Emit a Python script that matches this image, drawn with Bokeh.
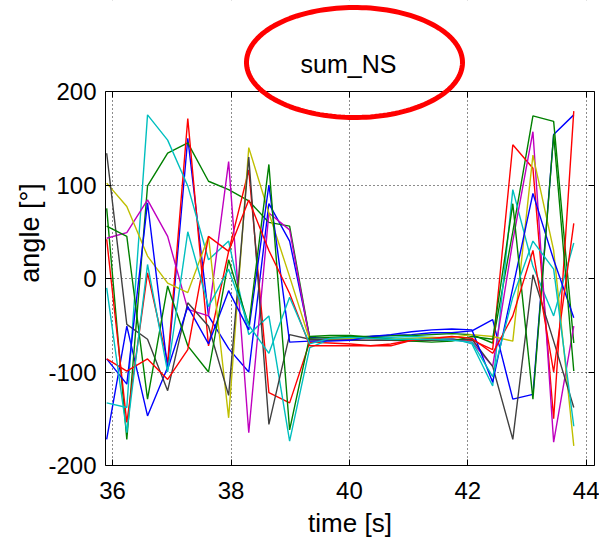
import numpy as np
from bokeh.plotting import figure
from bokeh.models import (Range1d, FixedTicker, LinearAxis, PolyAnnotation, Label,
                          BoxAnnotation)
from bokeh.embed import file_html
from bokeh.resources import INLINE

# ---- data -------------------------------------------------------------
time_s = [35.90, 36.24, 36.59, 36.93, 37.27, 37.62, 37.96, 38.30, 38.64, 38.99,
          39.33, 39.67, 40.02, 40.36, 40.70, 41.05, 41.39, 41.73, 42.07, 42.42,
          42.76, 43.10, 43.45, 43.79]

blue_1 = [-172, -51, -147, -95, 150, -40, -75, -100, 80, 40, -63, -64, -63, -62, -61, -60, -58, -58, -56, -44, -129, -124, 154, 175]
green_1 = [75, -172, 99, 134, 145, 104, 95, 83, 60, 56, -64, -63, -62, -62, -61, -61, -60, -59, -60, -69, 50, 174, 168, -69]
red_1 = [42, -154, 6, -90, 171, -72, 29, 116, -122, -133, -68, -69, -70, -72, -72, -66, -64, -65, -66, -76, 143, 118, -150, 179]
cyan_1 = [-133, -138, 175, 148, 99, 20, 40, -60, -40, -174, -74, -65, -64, -63, -63, -62, -63, -64, -70, -115, 95, 13, -40, 38]
magenta_1 = [43, 49, 84, 45, -33, -40, 125, -165, 70, 52, -66, -66, -65, -64, -66, -67, -66, -65, -68, -94, 40, 157, -175, -51]
yellow_1 = [102, 77, 24, -5, -15, 45, -149, 140, 70, 2, -66, -65, -64, -64, -65, -64, -63, -63, -60, -62, -67, 132, 30, -179]
gray_1 = [134, -49, -65, -120, -26, -51, -125, 130, -156, -60, -65, -66, -66, -66, -66, -66, -66, -66, -65, -94, -172, 4, -67, -138]
blue_2 = [-86, -113, 81, -97, -30, -70, -13, -55, 100, -68, -67, -67, -66, -62, -60, -57, -55, -54, -55, -111, -10, 91, 20, -42]
green_2 = [56, 45, -129, -8, -72, -100, 20, -50, 122, -162, -62, -61, -61, -63, -65, -67, -68, -67, -62, -65, 80, -129, 154, -99]
red_2 = [-86, -99, -86, -108, -76, 45, 29, 84, 30, -16, -72, -72, -72, -72, -70, -66, -64, -62, -64, -80, -40, 30, -100, 59]
cyan_2 = [-10, -165, 15, -100, 50, -30, 10, -50, -80, -20, -70, -64, -63, -64, -65, -65, -65, -66, -68, -105, -20, 40, 10, -158]

series = [blue_1, green_1, red_1, cyan_1, magenta_1, yellow_1, gray_1,
          blue_2, green_2, red_2, cyan_2]
colors = ["#0000FF", "#008000", "#FF0000", "#00BFBF", "#BF00BF", "#BFBF00", "#404040",
          "#0000FF", "#008000", "#FF0000", "#00BFBF"]

x_ticks = [36, 38, 40, 42, 44]
y_ticks = [-200, -100, 0, 100, 200]
y_tick_labels = {-200: "-200", -100: "-100", 0: "0", 100: "100", 200: "200"}

title_text = "sum_NS"
x_label = "time [s]"
y_label = "angle [°]"

# ---- layout constants (pixels) ------------------------------------------
FONT = "Liberation Sans"
BOX_L, BOX_R, BOX_T, BOX_B = 105, 594, 91, 465     # axes box on the page
BORDER_B = 82
X0, X1 = 35.88, 44.14
Y0, Y1 = -200, 200
sx = (X1 - X0) / (BOX_R - BOX_L)       # data units per pixel
sy = (Y1 - Y0) / (BOX_B - BOX_T)
Y_TOP = Y1 + BOX_T * sy                 # frame reaches the top of the page

def px_x(px):
    return X0 + (px - BOX_L) * sx

def px_y(py):
    return Y1 + (BOX_T - py) * sy

ELL_CX, ELL_CY, ELL_A, ELL_B = 354, 62, 108, 55
theta = np.linspace(0, 2 * np.pi, 160)

# ---- figure -------------------------------------------------------------
p = figure(frame_width=BOX_R - BOX_L, frame_height=BOX_B, output_backend="svg",
           toolbar_location=None, x_range=Range1d(X0, X1), y_range=Range1d(Y0, Y_TOP),
           min_border_left=BOX_L, min_border_right=599 - BOX_R, min_border_top=0,
           min_border_bottom=BORDER_B, background_fill_color="white",
           border_fill_color="white", outline_line_color=None)

for ax in (p.xaxis[0], p.yaxis[0]):
    ax.major_tick_in = 6
    ax.major_tick_out = 0
    ax.minor_tick_in = 0
    ax.minor_tick_out = 0
    ax.axis_line_color = "black"
    ax.major_tick_line_color = "black"
    ax.major_label_text_font = FONT
    ax.major_label_text_font_size = "24px"
    ax.major_label_text_color = "black"
    ax.axis_label_text_font = FONT
    ax.axis_label_text_font_style = "normal"
    ax.axis_label_text_color = "black"

p.xaxis.axis_label_text_font_size = "26px"
p.yaxis.axis_label_text_font_size = "27px"
p.xaxis.ticker = FixedTicker(ticks=x_ticks)
p.yaxis.ticker = FixedTicker(ticks=y_ticks)
p.yaxis.bounds = (Y0, Y1)
p.yaxis.major_label_overrides = y_tick_labels
p.xaxis.axis_label = x_label
p.yaxis.axis_label = y_label
p.xaxis.major_label_standoff = 16
p.yaxis.major_label_standoff = 9
p.xaxis.axis_label_standoff = 6
p.yaxis.axis_label_standoff = 0

right_ax = LinearAxis(ticker=FixedTicker(ticks=y_ticks), bounds=(Y0, Y1),
                      major_tick_in=6, major_tick_out=0, minor_tick_in=0, minor_tick_out=0,
                      major_label_text_font_size="0px", major_label_standoff=0,
                      axis_line_color="black")
p.add_layout(right_ax, "right")
top_ax = LinearAxis(ticker=FixedTicker(ticks=x_ticks), fixed_location=Y1,
                    major_tick_in=6, major_tick_out=0, minor_tick_in=0, minor_tick_out=0,
                    major_label_text_font_size="0px", major_label_standoff=0,
                    axis_line_color="black")
p.add_layout(top_ax, "above")

p.xgrid.grid_line_color = "black"
p.ygrid.grid_line_color = "black"
p.xgrid.grid_line_dash = "1 3"
p.ygrid.grid_line_dash = "1 3"
p.xgrid.grid_line_alpha = 0.9
p.ygrid.grid_line_alpha = 0.9

for ys, c in zip(series, colors):
    p.line(time_s, ys, line_color=c, line_width=1.4)

# blank page area above the axes box (hides the grid lines there)
p.add_layout(BoxAnnotation(bottom=Y1 + 1.5 * sy, top=Y_TOP + 10, left=X0 - 1, right=X1 + 1,
                           fill_color="white", fill_alpha=1.0, line_color=None))

# title and the red ellipse drawn around it
p.add_layout(PolyAnnotation(xs=list(px_x(ELL_CX + ELL_A * np.cos(theta))),
                            ys=list(px_y(ELL_CY + ELL_B * np.sin(theta))),
                            fill_alpha=0, line_color="#FF0000", line_alpha=1.0,
                            line_width=5))
p.add_layout(Label(x=px_x(348), y=px_y(63), text=title_text, text_align="center",
                   text_baseline="middle", text_font=FONT, text_font_size="25px",
                   text_color="black"))

open("out.html", "w").write(file_html(p, INLINE))
